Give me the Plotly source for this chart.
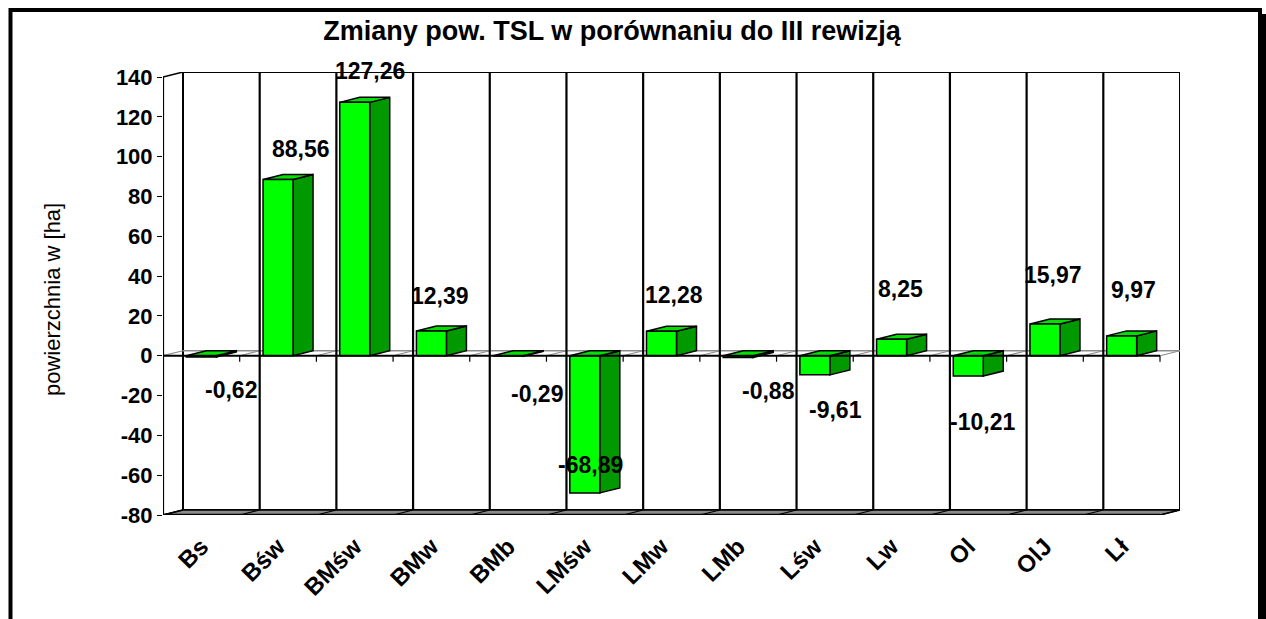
import plotly.graph_objects as go

# ---------------- data ----------------
categories = ["Bs", "Bśw", "BMśw", "BMw", "BMb", "LMśw", "LMw", "LMb", "Lśw", "Lw", "Ol", "OlJ", "Lł"]
values = [-0.62, 88.56, 127.26, 12.39, -0.29, -68.89, 12.28, -0.88, -9.61, 8.25, -10.21, 15.97, 9.97]
y_tick_values = [-80, -60, -40, -20, 0, 20, 40, 60, 80, 100, 120, 140]
chart_title = "Zmiany pow. TSL w porównaniu do III rewizją"
y_axis_title = "powierzchnia w [ha]"

# ---------------- layout / style constants ----------------
W, H = 1266, 619
PLOT_L, PLOT_R, PLOT_T, PLOT_B = 163, 1180, 72, 515
DEPTH_PX_X, DEPTH_PX_Y = 20, 5
Y_MIN, Y_MAX = -80, 140
FONT = "Liberation Sans, Arial, sans-serif"

# pixel offsets of value labels (Excel-like placement)
label_dx = [30, 23, 15, 9, 29, 6, 12, 30, 21, 9, 14, 8, 12]
label_dy = [-33, 30, 31, 35, -38, 28, 36, -34, -35, 50, -46, 49, 46]

n = len(categories)
ppu_x = (PLOT_R - PLOT_L - DEPTH_PX_X) / n
DX = DEPTH_PX_X / ppu_x
ppu_y = (PLOT_B - PLOT_T - DEPTH_PX_Y) / (Y_MAX - Y_MIN)
DY = DEPTH_PX_Y / ppu_y
X0, X1 = -0.5, n - 0.5
HALF = 15 / ppu_x
TICK = 6 / ppu_y

FRONT = "#00FF00"
SIDE = "#009A00"
TOP = "#00E000"

fig = go.Figure()


def poly(xs, ys, fill=None, line="black", width=1.5):
    fig.add_trace(go.Scatter(
        x=list(xs) + [xs[0]], y=list(ys) + [ys[0]], mode="lines",
        fill="toself" if fill else None, fillcolor=fill,
        line=dict(color=line, width=width), hoverinfo="skip", showlegend=False))


def seg(xs, ys, color="black", width=2):
    fig.add_trace(go.Scatter(x=xs, y=ys, mode="lines", line=dict(color=color, width=width),
                             hoverinfo="skip", showlegend=False))


# left side wall
poly([X0, X0, X0 + DX, X0 + DX], [Y_MIN, Y_MAX, Y_MAX + DY, Y_MIN + DY], fill="white", width=1.5)
# back wall
poly([X0 + DX, X1 + DX, X1 + DX, X0 + DX], [Y_MIN + DY, Y_MIN + DY, Y_MAX + DY, Y_MAX + DY],
     fill="white", width=2)
# zero plane (outline only)
seg([X0 + DX, X1 + DX], [DY, DY], color="#8c8c8c", width=1.5)
for k in range(n + 1):
    b = X0 + k
    seg([b, b + DX], [0, DY], color="#8c8c8c", width=1.2)
# back wall grid lines at category boundaries
for k in range(1, n):
    b = X0 + k + DX
    seg([b, b], [Y_MIN + DY, Y_MAX + DY], color="black", width=2.2)
# floor
poly([X0, X1, X1 + DX, X0 + DX], [Y_MIN, Y_MIN, Y_MIN + DY, Y_MIN + DY], fill="#8a8a8a", width=1.5)
for k in range(n + 1):
    b = X0 + k
    seg([b, b + DX], [Y_MIN, Y_MIN + DY], color="black", width=1.2)
seg([X0, X1], [Y_MIN, Y_MIN], color="black", width=2.5)

# bars
for i, v in enumerate(values):
    l, r = i - HALF, i + HALF
    top = max(v, 0)
    # side face
    poly([r, r, r + DX, r + DX], [0, v, v + DY, DY], fill=SIDE, width=1.5)
    # top face
    poly([l, r, r + DX, l + DX], [top, top, top + DY, top + DY], fill=TOP, width=1.5)
    # front face
    poly([l, r, r, l], [0, 0, v, v], fill=FRONT, width=1.5)

# front zero line and its ticks
seg([X0, X1], [0, 0], color="black", width=2.2)
for k in range(1, n + 1):
    b = X0 + k
    seg([b, b], [0, -TICK], color="black", width=1.2)
# front value axis line
seg([X0, X0], [Y_MIN, Y_MAX], color="black", width=2.2)

# value labels
annotations = []
for i, v in enumerate(values):
    annotations.append(dict(
        x=i, y=v, xref="x", yref="y", showarrow=False,
        text="<b>" + f"{v:.2f}".replace(".", ",") + "</b>",
        xshift=label_dx[i], yshift=label_dy[i],
        font=dict(family=FONT, size=23, color="black")))


def px_x(px):
    return (px - PLOT_L) / (PLOT_R - PLOT_L)


def px_y(py):
    return (PLOT_B - py) / (PLOT_B - PLOT_T)


annotations.append(dict(
    x=px_x(52), y=px_y(300), xref="paper", yref="paper", showarrow=False,
    text=y_axis_title, textangle=-90, xanchor="center", yanchor="middle",
    font=dict(family=FONT, size=22, color="black")))

shapes = [
    dict(type="rect", xref="paper", yref="paper", x0=px_x(10.5), x1=px_x(1260), y0=px_y(10), y1=px_y(660),
         line=dict(color="black", width=4), fillcolor="rgba(0,0,0,0)", layer="above"),
    dict(type="rect", xref="paper", yref="paper", x0=px_x(1262), x1=px_x(1268), y0=px_y(14), y1=px_y(660),
         line=dict(width=0), fillcolor="black", layer="above"),
]

fig.update_layout(
    width=W, height=H,
    margin=dict(l=PLOT_L, r=W - PLOT_R, t=PLOT_T, b=H - PLOT_B, pad=0, autoexpand=False),
    paper_bgcolor="white", plot_bgcolor="white",
    title=dict(text="<b>" + chart_title + "</b>", x=612 / W, xanchor="center",
               y=1 - 31 / H, yanchor="middle", font=dict(family=FONT, size=27, color="black")),
    xaxis=dict(range=[X0, X1 + DX], showgrid=False, zeroline=False, showline=False,
               tickmode="array", tickvals=list(range(n)),
               ticktext=["<b>" + c + "</b>" for c in categories],
               tickangle=-45, ticks="outside", ticklen=7, tickcolor="rgba(0,0,0,0)",
               tickfont=dict(family=FONT, size=24, color="black"), fixedrange=True, automargin=False),
    yaxis=dict(range=[Y_MIN, Y_MAX + DY], showgrid=False, zeroline=False, showline=False,
               tickmode="array", tickvals=y_tick_values,
               ticktext=["<b>" + str(t) + "</b>" for t in y_tick_values],
               ticks="outside", ticklen=5, tickcolor="black", tickwidth=1.2,
               tickfont=dict(family=FONT, size=22, color="black"), fixedrange=True, automargin=False),
    annotations=annotations, shapes=shapes, showlegend=False,
)

fig.write_html("out.html", config={"displayModeBar": False},
               post_script="document.body.style.margin='0px';document.body.style.overflow='hidden';")
